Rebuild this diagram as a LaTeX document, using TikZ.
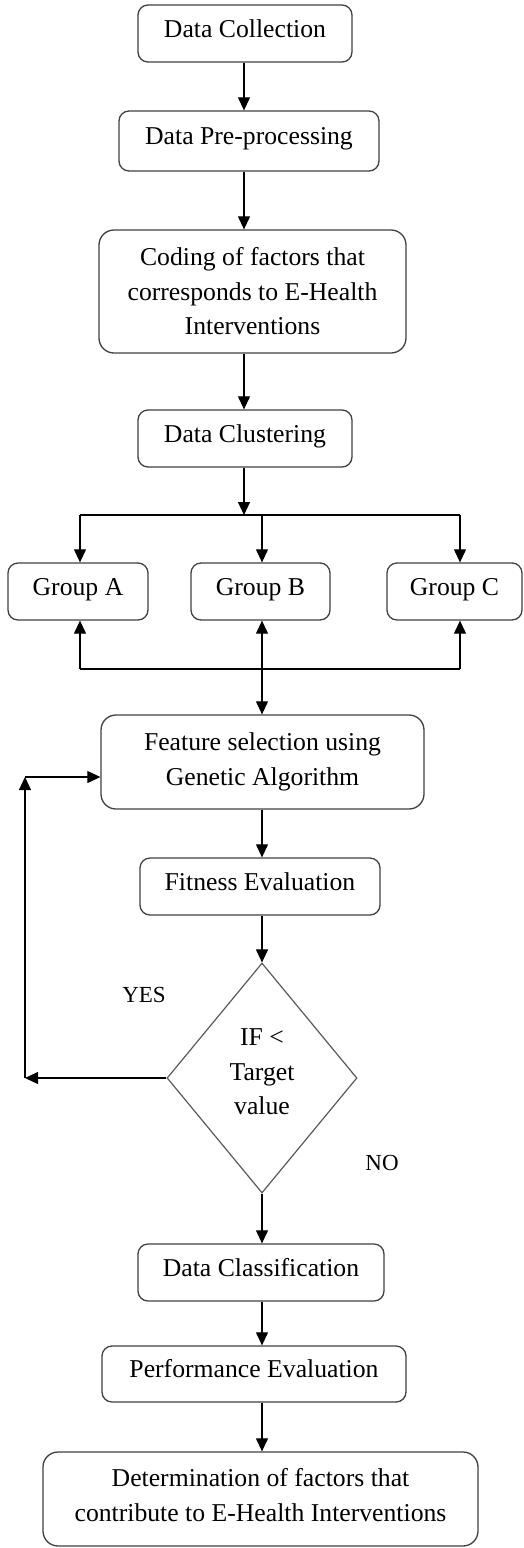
\documentclass[tikz,border=0pt]{standalone}
\usepackage{fontspec}
\setmainfont{Liberation Serif}
\usetikzlibrary{arrows.meta,shapes.geometric}
\newcommand\boxfont{\fontsize{25.7pt}{34.5pt}\selectfont}
\newcommand\lblfont{\fontsize{23pt}{27pt}\selectfont}
\begin{document}
\begin{tikzpicture}[x=1pt,y=-1pt,
  box/.style={draw=black!75,line width=1.3pt,rounded corners=10pt,align=center,inner sep=0pt,font=\boxfont},
  onel/.style={text height=17.5pt,text depth=10.5pt},
  bigbox/.style={box,rounded corners=15pt},
  dec/.style={draw=black!65,line width=1.2pt,diamond,inner sep=0pt},
  txt/.style={align=center,inner sep=0pt,font=\boxfont},
  arr/.style={-{Triangle[length=13pt,width=12pt]},line width=1.1pt},
  darr/.style={{Triangle[length=13pt,width=12pt]}-{Triangle[length=13pt,width=12pt]},line width=1.1pt},
  ln/.style={line width=1.1pt},
  lbl/.style={font=\lblfont,inner sep=0pt}]
\useasboundingbox (0,0) rectangle (523,1548);
% boxes
\node[box,onel,minimum width=214pt,minimum height=57pt] (dc) at (245,33.5) {Data Collection};
\node[box,onel,minimum width=260pt,minimum height=60pt] (dpp) at (249,141) {Data Pre-processing};
\node[bigbox,minimum width=307pt,minimum height=123pt] (cod) at (252.5,291.5) {Coding of factors that\\corresponds to E-Health\\Interventions};
\node[box,onel,minimum width=214pt,minimum height=57pt] (dcl) at (245,438.5) {Data Clustering};
\node[box,onel,minimum width=140pt,minimum height=57pt] (ga) at (78,591.5) {Group A};
\node[box,onel,minimum width=139pt,minimum height=57pt] (gb) at (260.5,591.5) {Group B};
\node[box,onel,minimum width=135pt,minimum height=57pt] (gc) at (454.5,591.5) {Group C};
\node[bigbox,minimum width=323pt,minimum height=94pt] (fs) at (262.5,762) {Feature selection using\\Genetic Algorithm};
\node[box,onel,minimum width=240pt,minimum height=57pt] (fe) at (260,886.5) {Fitness Evaluation};
\node[dec,minimum width=190pt,minimum height=230pt,shape aspect=0.826] (if) at (262,1078) {};
\node[txt] (iftxt) at (262,1072) {IF <\\Target\\value};
\node[box,onel,minimum width=246pt,minimum height=57pt] (dcf) at (261,1272.5) {Data Classification};
\node[box,onel,minimum width=304pt,minimum height=56pt] (pe) at (254,1374) {Performance Evaluation};
\node[bigbox,minimum width=435pt,minimum height=94pt] (det) at (260.5,1499) {};
\node[txt] (dettxt) at (260.5,1495) {Determination of factors that\\contribute to E-Health Interventions};
% labels
\node[lbl] (yes) at (144,995) {YES};
\node[lbl] (no) at (382,1163) {NO};
% column coordinates
\coordinate (c1) at (244,0);
\coordinate (c2) at (262,0);
\coordinate (bus) at (244,515);
\coordinate (busL) at (80,515);
\coordinate (busR) at (460,515);
\coordinate (lowL) at (80,669);
\coordinate (lowR) at (460,669);
\coordinate (fbB) at (25,1078);
\coordinate (fbT) at (25,777);
% connectors top part
\draw[arr] (dc.south -| c1) -- (dpp.north -| c1);
\draw[arr] (dpp.south -| c1) -- (cod.north -| c1);
\draw[arr] (cod.south -| c1) -- (dcl.north -| c1);
\draw[arr] (dcl.south -| c1) -- (bus);
\draw[ln] (busL) -- (busR);
\draw[arr] (busL) -- (ga.north -| busL);
\draw[arr] (bus -| c2) -- (gb.north -| c2);
\draw[arr] (busR) -- (gc.north -| busR);
% lower bus
\draw[ln] (lowL) -- (lowR);
\draw[arr] (lowL) -- (ga.south -| lowL);
\draw[arr] (lowR) -- (gc.south -| lowR);
\draw[darr] (gb.south -| c2) -- (fs.north -| c2);
% main column
\draw[arr] (fs.south -| c2) -- (fe.north -| c2);
\draw[arr] (fe.south -| c2) -- (if.north);
\draw[arr] (if.south) -- (dcf.north -| c2);
\draw[arr] (dcf.south -| c2) -- (pe.north -| c2);
\draw[arr] (pe.south -| c2) -- (det.north -| c2);
% feedback loop
\draw[arr] (if.west) -- (fbB);
\draw[arr] (fbB) -- (fbT);
\draw[arr] (fbT) -- (fs.west |- fbT);
\end{tikzpicture}
\end{document}
